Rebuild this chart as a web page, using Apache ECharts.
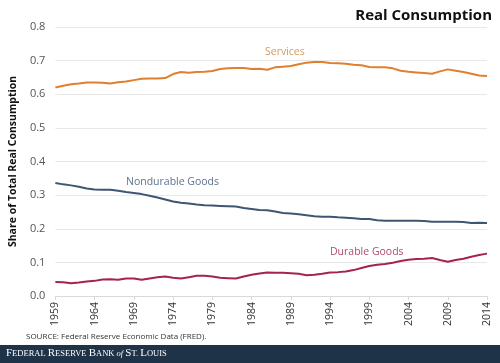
<!DOCTYPE html>
<html><head><meta charset="utf-8">
<script src="https://cdn.jsdelivr.net/npm/echarts@6/dist/echarts.min.js"></script>
<style>html,body{margin:0;padding:0;background:#fff}#c{width:500px;height:363px}</style>
</head><body><div id="c"></div>
<script>
var years = [];
for (var y = 1959; y <= 2014; y++) years.push(String(y));
var services = [0.620,0.625,0.630,0.632,0.635,0.635,0.634,0.632,0.636,0.638,0.642,0.646,0.647,0.647,0.648,0.660,0.666,0.664,0.666,0.667,0.669,0.675,0.677,0.678,0.678,0.675,0.676,0.673,0.680,0.682,0.684,0.689,0.694,0.696,0.696,0.693,0.692,0.691,0.688,0.686,0.681,0.680,0.680,0.677,0.670,0.667,0.665,0.663,0.661,0.668,0.674,0.670,0.666,0.661,0.656,0.654];
var nondurable = [0.336,0.332,0.329,0.325,0.320,0.317,0.316,0.316,0.313,0.309,0.306,0.303,0.298,0.293,0.287,0.281,0.277,0.275,0.272,0.270,0.269,0.268,0.267,0.266,0.262,0.259,0.256,0.255,0.251,0.247,0.245,0.243,0.240,0.237,0.236,0.236,0.234,0.233,0.231,0.229,0.229,0.225,0.224,0.224,0.224,0.224,0.224,0.223,0.221,0.221,0.221,0.221,0.220,0.217,0.218,0.217];
var durable = [0.042,0.041,0.038,0.040,0.043,0.045,0.049,0.050,0.048,0.052,0.052,0.048,0.052,0.056,0.058,0.054,0.052,0.056,0.060,0.060,0.058,0.054,0.053,0.052,0.058,0.063,0.067,0.070,0.069,0.069,0.068,0.066,0.062,0.063,0.066,0.070,0.071,0.073,0.077,0.083,0.089,0.093,0.095,0.099,0.104,0.108,0.110,0.111,0.113,0.107,0.102,0.107,0.111,0.117,0.122,0.126];
var yTicks = ['0.0','0.1','0.2','0.3','0.4','0.5','0.6','0.7','0.8'];
var seriesNames = ['Services','Nondurable Goods','Durable Goods'];

var chart = echarts.init(document.getElementById('c'), null, {renderer:'canvas'});
var font = 'Open Sans, sans-serif';
var serif = '"Liberation Serif", "DejaVu Serif", serif';
chart.setOption({
  animation:false,
  backgroundColor:'#fff',
  grid:{left:53, right:13, top:27, bottom:67},
  title:{text:'Real Consumption', right:3, top:3,
    textStyle:{fontFamily:font, fontWeight:'bold', fontSize:15, color:'#111'}},
  xAxis:{type:'category', data:years, boundaryGap:false,
    axisLine:{lineStyle:{color:'#d9d9d9'}},
    axisTick:{show:true, interval:4, length:4, lineStyle:{color:'#d9d9d9'}},
    axisLabel:{interval:4, rotate:90, color:'#333', fontFamily:font, fontSize:10.5, margin:6}},
  yAxis:{type:'value', min:0, max:0.8, interval:0.1,
    name:'Share of Total Real Consumption', nameLocation:'middle', nameGap:35,
    nameTextStyle:{fontFamily:font, fontWeight:'bold', fontSize:10.5, color:'#111'},
    axisLine:{show:false}, axisTick:{show:false},
    splitLine:{lineStyle:{color:'#e8e8e8'}},
    axisLabel:{color:'#555', fontFamily:font, fontSize:11, margin:10,
      formatter:function(v){return yTicks[Math.round(v*10)];}}},
  series:[
    {name:seriesNames[0], type:'line', data:services, symbol:'none', lineStyle:{color:'#E07F2E', width:2}},
    {name:seriesNames[1], type:'line', data:nondurable, symbol:'none', lineStyle:{color:'#3F5673', width:2}},
    {name:seriesNames[2], type:'line', data:durable, symbol:'none', lineStyle:{color:'#A3244F', width:2}}
  ],
  graphic:[
    {type:'text', left:265, top:47, style:{text:seriesNames[0], fill:'#D9995C', font:'10.5px '+font}},
    {type:'text', left:126, top:177, style:{text:seriesNames[1], fill:'#5B7290', font:'10.5px '+font}},
    {type:'text', left:330, top:247, style:{text:seriesNames[2], fill:'#B34A72', font:'10.5px '+font}},
    {type:'text', left:26, top:333, style:{text:'SOURCE: Federal Reserve Economic Data (FRED).', fill:'#333', font:'8px '+font}},
    {type:'rect', shape:{x:0, y:345, width:500, height:18}, style:{fill:'#1E3248'}},
    {type:'text', left:6, top:348, style:{
      text:'{b|F}{s|EDERAL }{b|R}{s|ESERVE }{b|B}{s|ANK }{i|of }{b|S}{s|T. }{b|L}{s|OUIS}',
      rich:{
        b:{fill:'#fff', fontFamily:serif, fontSize:11},
        s:{fill:'#fff', fontFamily:serif, fontSize:8.5},
        i:{fill:'#fff', fontFamily:serif, fontSize:8.5, fontStyle:'italic'}
      }}}
  ]
});
</script></body></html>
